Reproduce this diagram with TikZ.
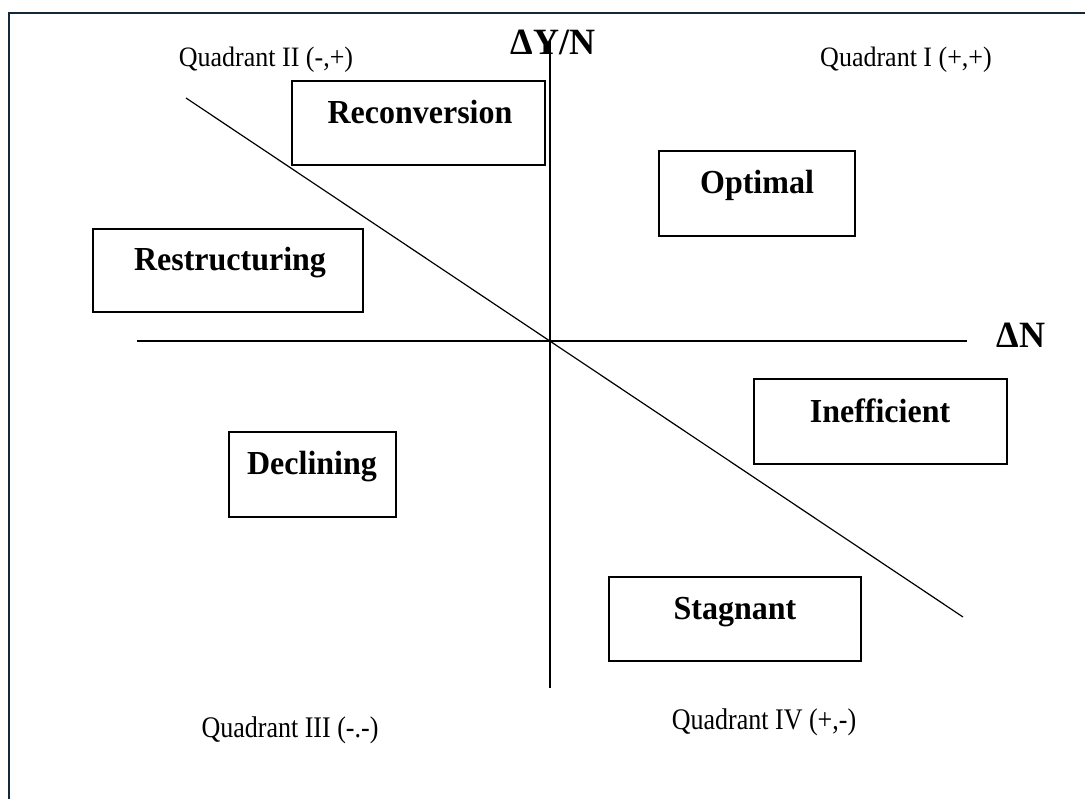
\documentclass[tikz,border=0pt]{standalone}
\usepackage{fontspec}
\setmainfont{Liberation Serif}
\definecolor{navy}{HTML}{13293A}
\begin{document}
\begin{tikzpicture}[x=1pt,y=-1pt,
  box/.style={draw, line width=1.5pt, rectangle, inner sep=0pt},
  lbl/.style={font=\fontsize{32}{38}\selectfont\bfseries, inner sep=0pt, anchor=base},
  quad/.style={font=\fontsize{26}{30}\selectfont, inner sep=0pt, anchor=base},
  axislbl/.style={font=\fontsize{36}{42}\selectfont\bfseries, inner sep=0pt, anchor=base},
  ln/.style={line width=1.2pt}]
\useasboundingbox (0,0) rectangle (1085,799);
\draw[navy, line width=1.5pt] (9,799) -- (9,13) -- (1085,13);
% axes
\coordinate (vtop) at (550,40);
\coordinate (vbot) at (550,688);
\coordinate (hleft) at (137,341);
\coordinate (hright) at (967,341);
\coordinate (dtop) at (186,98);
\coordinate (dbot) at (963,617);
\draw[ln] (vtop) -- (vbot);
\draw[ln] (hleft) -- (hright);
\draw[ln] (dtop) -- (dbot);
\node[axislbl] (ylab) at (553,55) {\scalebox{1}[1.03]{ΔY/N}};
\node[axislbl] (xlab) at (1021,348) {\scalebox{1}[1.03]{ΔN}};
% quadrant labels
\node[quad] (q2) at (266,67) {\scalebox{1}[1.08]{Quadrant II (-,+)}};
\node[quad] (q1) at (906,67) {\scalebox{1}[1.08]{Quadrant I (+,+)}};
\node[quad] (q3) at (290,737) {\scalebox{1}[1.15]{Quadrant III (-.-)}};
\node[quad] (q4) at (764,729) {\scalebox{1}[1.15]{Quadrant IV (+,-)}};
% boxes
\node[box, minimum width=253pt, minimum height=84pt] (reconv) at (418.5,123) {};
\node[box, minimum width=196pt, minimum height=85pt] (optimal) at (757,193.5) {};
\node[box, minimum width=270pt, minimum height=83pt] (restr) at (228,270.5) {};
\node[box, minimum width=253pt, minimum height=85pt] (ineff) at (880.5,421.5) {};
\node[box, minimum width=167pt, minimum height=85pt] (decl) at (312.5,474.5) {};
\node[box, minimum width=252pt, minimum height=84pt] (stag) at (735,619) {};
\node[lbl] (reconvT) at (420,124) {\scalebox{1}[1.05]{Reconversion}};
\node[lbl] (optimalT) at (757,194) {\scalebox{1}[1.05]{Optimal}};
\node[lbl] (restrT) at (230,271) {\scalebox{1}[1.05]{Restructuring}};
\node[lbl] (ineffT) at (880,423) {\scalebox{1}[1.05]{Inefficient}};
\node[lbl] (declT) at (312,475) {\scalebox{1}[1.05]{Declining}};
\node[lbl] (stagT) at (735,619) {\scalebox{1}[1.05]{Stagnant}};
\end{tikzpicture}
\end{document}
